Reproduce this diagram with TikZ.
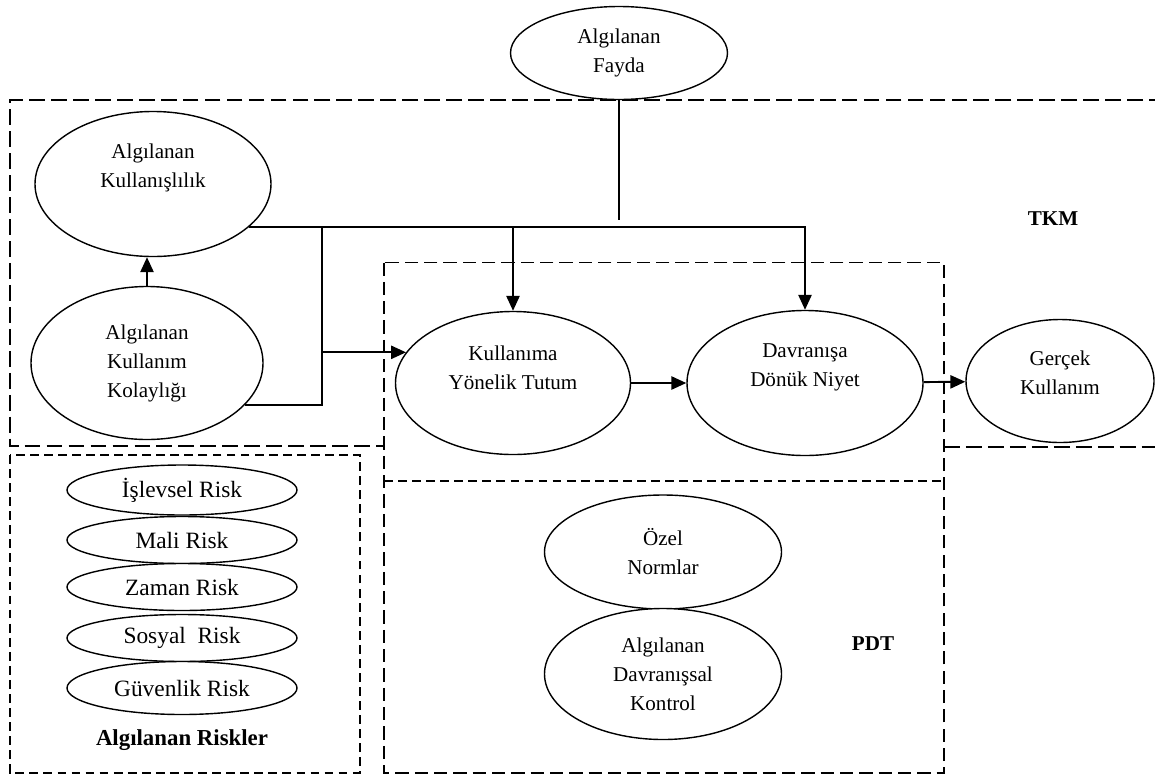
\documentclass[tikz,border=0pt]{standalone}
\usepackage{fontspec}
\setmainfont{Liberation Serif}
\usetikzlibrary{arrows.meta, shapes.geometric, positioning}

\begin{document}
\begin{tikzpicture}[
  oval/.style={ellipse, draw, line width=0.8pt, fill=white, inner sep=0pt,
    align=center, font=\fontsize{12}{16.5}\selectfont},
  txt/.style={align=center, font=\fontsize{12}{16.5}\selectfont},
  tag/.style={font=\fontsize{12}{14}\selectfont\bfseries},
  arr/.style={-{Triangle[length=8.5pt, width=7.5pt]}, line width=1.1pt},
  lnk/.style={line width=1pt},
  frameA/.style={line width=1.1pt, dash pattern=on 9pt off 3.5pt},
  frameB/.style={line width=1pt, dash pattern=on 7.5pt off 3.5pt},
  frameC/.style={line width=0.9pt, dash pattern=on 5pt off 3pt},
]
\useasboundingbox (0,0) rectangle (23.1,-15.58);

% frames
\draw[frameA] (23.3,-2.0) -- (0.2,-2.0) -- (0.2,-8.92) -- (7.68,-8.92);
\draw[frameA] (18.88,-8.94) -- (23.3,-8.94);
\draw[frameB] (7.68,-5.25) rectangle (18.88,-15.46);
\draw[frameC] (7.68,-9.62) -- (18.88,-9.62);
\draw[frameC] (0.2,-9.1) rectangle (7.2,-15.46);

\node[oval, minimum width=4.34cm, minimum height=1.86cm]
      (fayda) at (12.38,-1.06) {Algılanan\\Fayda};

\node[oval, minimum width=4.72cm, minimum height=2.9cm]
      (ak) at (3.06,-3.68) {};
\node[txt] (akT) at ([yshift=0.32cm]ak.center) {Algılanan\\Kullanışlılık};

\node[oval, minimum width=4.64cm, minimum height=3.06cm]
      (akk) at (2.94,-7.26) {Algılanan\\Kullanım\\Kolaylığı};

\node[oval, minimum width=4.7cm, minimum height=2.86cm]
      (tutum) at (10.26,-7.66) {};
\node[txt] (tutumT) at ([yshift=0.31cm]tutum.center) {Kullanıma\\Yönelik Tutum};

\node[oval, minimum width=4.72cm, minimum height=2.9cm]
      (niyet) at (16.1,-7.66) {};
\node[txt] (niyetT) at ([yshift=0.31cm]niyet.center) {Davranışa\\Dönük Niyet};

\node[oval, minimum width=3.76cm, minimum height=2.46cm]
      (gercek) at (21.2,-7.62) {};
\node[txt] (gercekT) at ([yshift=0.16cm]gercek.center) {Gerçek\\Kullanım};

\node[oval, minimum width=4.74cm, minimum height=2.28cm]
      (ozel) at (13.26,-11.04) {Özel\\Normlar};
\node[oval, minimum width=4.74cm, minimum height=2.62cm]
      (adk) at (13.26,-13.48) {Algılanan\\Davranışsal\\Kontrol};

\foreach \lbl/\y/\h [count=\i] in {
  İşlevsel Risk/-9.8/1.0, Mali Risk/-10.8/0.94,
  Zaman Risk/-11.74/0.94, Sosyal\ \ Risk/-12.76/0.94,
  Güvenlik Risk/-13.76/1.06}{
  \node[oval, minimum width=4.6cm, minimum height=\h cm,
        font=\fontsize{13.3}{16}\selectfont]
        (risk\i) at (3.64,\y) {\lbl};
}

\node[tag, font=\fontsize{13}{15}\selectfont\bfseries]
      (riskT) at (3.64,-14.8) {Algılanan Riskler};
\node[tag] (tkm) at (21.06,-4.38) {TKM};
\node[tag] (pdt) at (17.46,-12.88) {PDT};

\coordinate (bx) at (6.44,0);
\coordinate (bus) at (ak.-24 -| bx);

\draw[arr] (akk.north) -- (akk.north |- ak.south);
\draw[arr] (ak.-24) -| (niyet.north);
\draw[arr] (tutum.north |- ak.-24) -- (tutum.north);
\draw[lnk] (akk.-23) -| (bus);
\draw[arr] (bus |- tutum.164) -- (tutum.164);
\draw[lnk] (fayda.south) -- ++(0,-2.4);
\draw[arr] (tutum) -- (niyet);
\draw[arr] (niyet) -- (gercek);

\end{tikzpicture}
\end{document}
